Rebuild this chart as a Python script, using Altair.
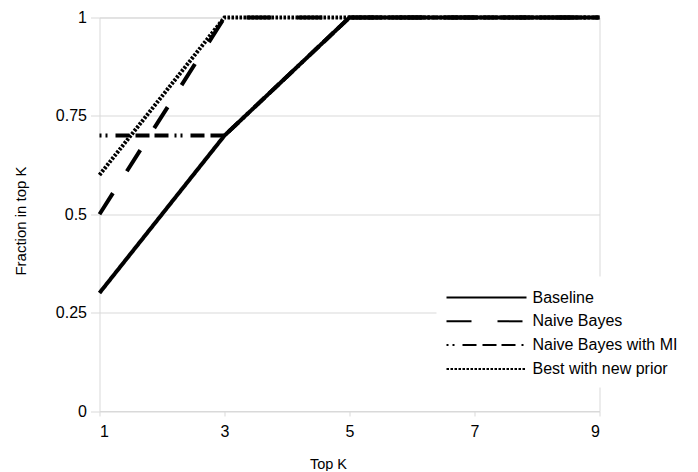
import altair as alt
import pandas as pd

# ---- data ----
top_k = [1, 3, 5, 7, 9]
baseline = [0.3, 0.7, 1.0, 1.0, 1.0]
naive_bayes = [0.5, 1.0, 1.0, 1.0, 1.0]
naive_bayes_mi = [0.7, 0.7, 1.0, 1.0, 1.0]
best_new_prior = [0.6, 1.0, 1.0, 1.0, 1.0]
series_names = ["Baseline", "Naive Bayes", "Naive Bayes with MI", "Best with new prior"]
x_ticks = [1, 3, 5, 7, 9]
y_ticks = [0, 0.25, 0.5, 0.75, 1]

series_values = [baseline, naive_bayes, naive_bayes_mi, best_new_prior]
rows = []
for name, vals in zip(series_names, series_values):
    for k, v in zip(top_k, vals):
        rows.append({"K": k, "Fraction": v, "Series": name})
df = pd.DataFrame(rows)

dash_styles = [[1, 0], [25, 26], [2, 4, 2, 8, 14, 6, 14, 5, 14, 6], [2.5, 1.5]]
FONT = "Liberation Sans"

chart = (
    alt.Chart(df)
    .mark_line(color="black", strokeWidth=4, strokeCap="butt", clip=False)
    .encode(
        x=alt.X(
            "K:Q",
            title="Top K",
            scale=alt.Scale(domain=[1, 9], nice=False, zero=False),
            axis=alt.Axis(
                values=x_ticks,
                grid=False,
                domain=False,
                ticks=True,
                tickSize=5,
                tickColor="#d9d9d9",
                labelPadding=7,
                labelFontSize=16,
                labelFont=FONT,
                labelColor="black",
                titleFont=FONT,
                titleFontSize=14.5,
                titleFontWeight="normal",
                titleColor="black",
                titleX=228.5,
                titleY=57,
                titleAlign="center",
                titleBaseline="alphabetic",
            ),
        ),
        y=alt.Y(
            "Fraction:Q",
            title="Fraction in top K",
            scale=alt.Scale(domain=[0, 1], nice=False),
            axis=alt.Axis(
                values=y_ticks,
                labelExpr="'' + datum.value",
                grid=True,
                gridColor="#d9d9d9",
                domain=False,
                ticks=True,
                tickSize=9,
                tickColor="#d9d9d9",
                labelPadding=4,
                labelFontSize=16,
                labelFont=FONT,
                labelColor="black",
                titleFont=FONT,
                titleFontSize=15,
                titleFontWeight="normal",
                titleColor="black",
                titleAngle=270,
                titleX=-79,
                titleY=203,
                titleAlign="center",
                titleBaseline="middle",
            ),
        ),
        strokeDash=alt.StrokeDash(
            "Series:N",
            scale=alt.Scale(domain=series_names, range=dash_styles),
            legend=alt.Legend(
                title=None,
                orient="none",
                legendX=337,
                legendY=259,
                symbolType="M-4,0H4",
                symbolSize=400,
                symbolStrokeWidth=2,
                symbolStrokeColor="black",
                symbolOffset=29,
                labelOffset=35,
                labelFontSize=16,
                labelFont=FONT,
                labelColor="black",
                fillColor="white",
                padding=10,
                rowPadding=4.8,
            ),
        ),
        order=alt.Order("K:Q"),
    )
    .properties(
        width=500,
        height=393.5,
        padding={"left": 5.5, "top": 1.5, "right": 0, "bottom": 0},
    )
    .configure_view(stroke="#d9d9d9", strokeWidth=1)
)

chart.save("out.html", embed_options={"renderer": "svg", "actions": False})
